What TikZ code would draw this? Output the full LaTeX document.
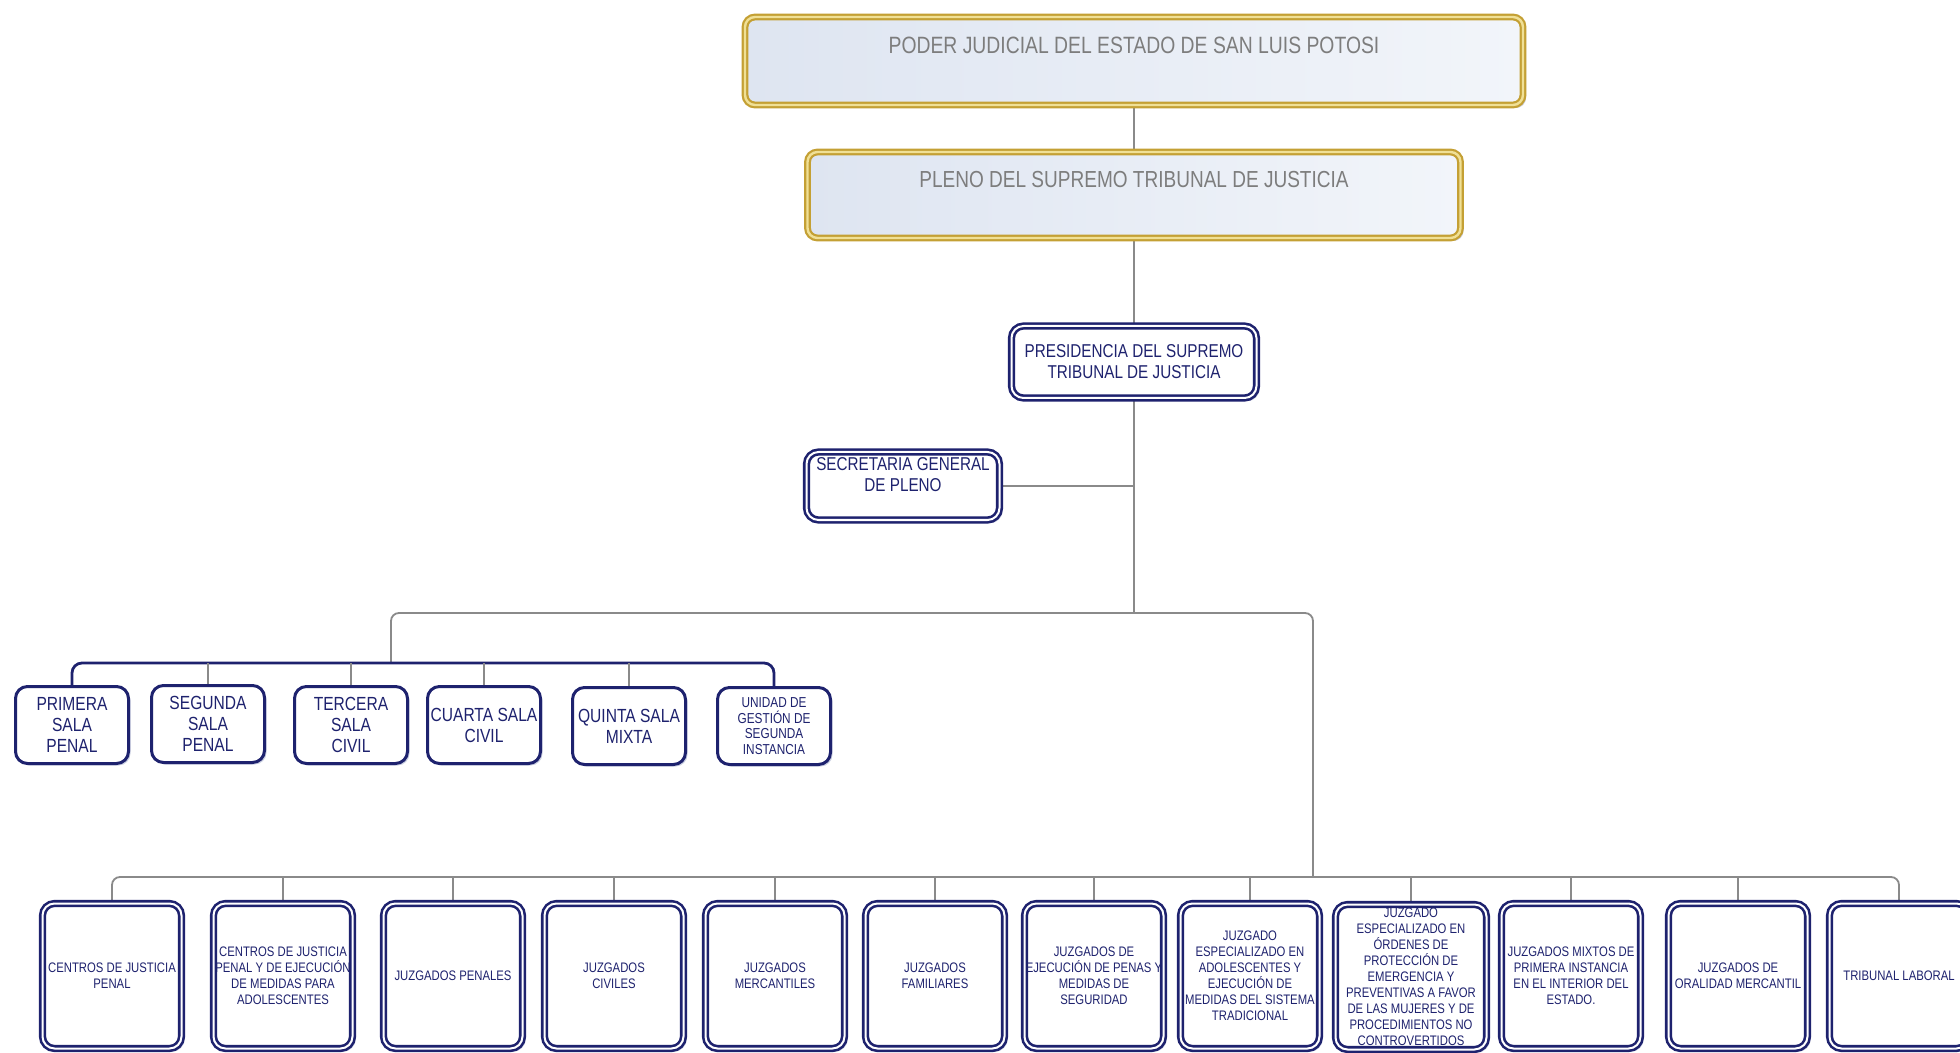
\documentclass[tikz,border=0pt]{standalone}
\usepackage{fontspec}
\setmainfont{Liberation Sans}[FakeStretch=0.82]
\usetikzlibrary{shadows}
\definecolor{navy}{RGB}{30,34,110}
\definecolor{linegray}{RGB}{138,138,138}
\definecolor{textgray}{RGB}{125,125,125}
\definecolor{goldd}{RGB}{196,160,52}
\definecolor{goldl}{RGB}{240,224,150}
\definecolor{fillL}{RGB}{222,229,241}
\definecolor{fillR}{RGB}{242,245,250}
\definecolor{shadowc}{RGB}{150,160,195}
\pgfdeclarelayer{bg}
\pgfsetlayers{bg,main}
\begin{document}
\begin{tikzpicture}[x=0.5pt,y=-0.5pt,
  goldbox/.style={draw=goldd, double=goldl, line width=1.1pt, double distance=1.2pt,
    rounded corners=5pt, left color=fillL, right color=fillR,
    drop shadow={shadow xshift=1.5pt, shadow yshift=-1.5pt, fill=shadowc, opacity=0.5},
    inner sep=0pt},
  dblbox/.style={draw=navy, double=white, line width=1.3pt, double distance=1pt,
    rounded corners=6pt, fill=white, text=navy, align=center, inner sep=0pt,
    drop shadow={shadow xshift=1.5pt, shadow yshift=-1.5pt, fill=shadowc, opacity=0.6}},
  salabox/.style={draw=navy, line width=1.5pt, rounded corners=6pt, fill=white,
    text=navy, align=center, inner sep=0pt,
    minimum width=56.5pt, minimum height=38.5pt,
    font=\fontsize{9.5}{10.5}\selectfont,
    drop shadow={shadow xshift=1pt, shadow yshift=-1pt, fill=shadowc, opacity=0.5}},
  botbox/.style={dblbox, minimum width=69.5pt, minimum height=72.5pt,
    font=\fontsize{6.9}{8}\selectfont},
  midbox/.style={dblbox, font=\fontsize{9.3}{10.5}\selectfont},
  conn/.style={draw=linegray, line width=0.9pt},
  bluebar/.style={draw=navy, line width=1.4pt}
]
\useasboundingbox (0,0) rectangle (1960,1053);

% top boxes
\node[goldbox, minimum width=389pt, minimum height=44pt] (top) at (1134,61)
  [label={[text=textgray, font=\fontsize{11.8}{13}\selectfont, yshift=8pt]center:PODER JUDICIAL DEL ESTADO DE SAN LUIS POTOSI}] {};
\node[goldbox, minimum width=326.5pt, minimum height=43pt] (pleno) at (1134,195)
  [label={[text=textgray, font=\fontsize{11.6}{13}\selectfont, yshift=7.5pt]center:PLENO DEL SUPREMO TRIBUNAL DE JUSTICIA}] {};

\node[midbox, minimum width=122.5pt, minimum height=36pt] (pres) at (1134,362)
  {PRESIDENCIA DEL SUPREMO\\TRIBUNAL DE JUSTICIA};
\node[midbox, minimum width=96.5pt, minimum height=34pt] (sec) at (903,486)
  [label={[text=navy, align=center, font=\fontsize{9.3}{10.5}\selectfont, yshift=5.5pt]center:SECRETARIA GENERAL\\DE PLENO}] {};

% salas
\node[salabox] (s1) at (72,725) {PRIMERA\\SALA\\PENAL};
\node[salabox] (s2) at (208,724) {SEGUNDA\\SALA\\PENAL};
\node[salabox] (s3) at (351,725) {TERCERA\\SALA\\CIVIL};
\node[salabox] (s4) at (484,725) {CUARTA SALA\\CIVIL};
\node[salabox] (s5) at (629,726) {QUINTA SALA\\MIXTA};
\node[salabox, font=\fontsize{7.2}{7.8}\selectfont] (s6) at (774,726) {UNIDAD DE\\GESTIÓN DE\\SEGUNDA\\INSTANCIA};

% bottom row
\node[botbox] (b1) at (112,976) {CENTROS DE JUSTICIA\\PENAL};
\node[botbox] (b2) at (283,976) {CENTROS DE JUSTICIA\\PENAL Y DE EJECUCIÓN\\DE MEDIDAS PARA\\ADOLESCENTES};
\node[botbox] (b3) at (453,976) {JUZGADOS PENALES};
\node[botbox] (b4) at (614,976) {JUZGADOS\\CIVILES};
\node[botbox] (b5) at (775,976) {JUZGADOS\\MERCANTILES};
\node[botbox] (b6) at (935,976) {JUZGADOS\\FAMILIARES};
\node[botbox] (b7) at (1094,976) {JUZGADOS DE\\EJECUCIÓN DE PENAS Y\\MEDIDAS DE\\SEGURIDAD};
\node[botbox] (b8) at (1250,976) {JUZGADO\\ESPECIALIZADO EN\\ADOLESCENTES Y\\EJECUCIÓN DE\\MEDIDAS DEL SISTEMA\\TRADICIONAL};
\node[botbox, minimum width=75.5pt] (b9) at (1411,977) {JUZGADO\\ESPECIALIZADO EN\\ÓRDENES DE\\PROTECCIÓN DE\\EMERGENCIA Y\\PREVENTIVAS A FAVOR\\DE LAS MUJERES Y DE\\PROCEDIMIENTOS NO\\CONTROVERTIDOS};
\node[botbox] (b10) at (1571,976) {JUZGADOS MIXTOS DE\\PRIMERA INSTANCIA\\EN EL INTERIOR DEL\\ESTADO.};
\node[botbox] (b11) at (1738,976) {JUZGADOS DE\\ORALIDAD MERCANTIL};
\node[botbox] (b12) at (1899,976) {TRIBUNAL LABORAL};

% junction coordinates
\coordinate (gj) at (1135,613);
\coordinate (sj) at (391,663);
\coordinate (bj) at (1313,877);

\begin{pgfonlayer}{bg}
\draw[conn] (top.south) -- (pleno.north);
\draw[conn] (pleno.south) -- (pres.north);
\draw[conn] (pres.south) -- (pres.south |- gj);
\draw[conn] (sec.east) -- (sec.east -| pres.south);
\draw[conn, rounded corners=4pt] (sj) -- (sj |- gj) -- (bj |- gj) -- (bj);
\draw[bluebar, rounded corners=5pt] (s1.north) -- (s1.north |- sj) -- (s6.north |- sj) -- (s6.north);
\foreach \n in {s2,s3,s4,s5} \draw[conn] (\n.north |- sj) -- (\n.north);
\draw[conn, rounded corners=4pt] (b1.north) -- (b1.north |- bj) -- (b12.north |- bj) -- (b12.north);
\foreach \n in {b2,b3,b4,b5,b6,b7,b8,b9,b10,b11} \draw[conn] (\n.north |- bj) -- (\n.north);
\end{pgfonlayer}
\end{tikzpicture}
\end{document}
